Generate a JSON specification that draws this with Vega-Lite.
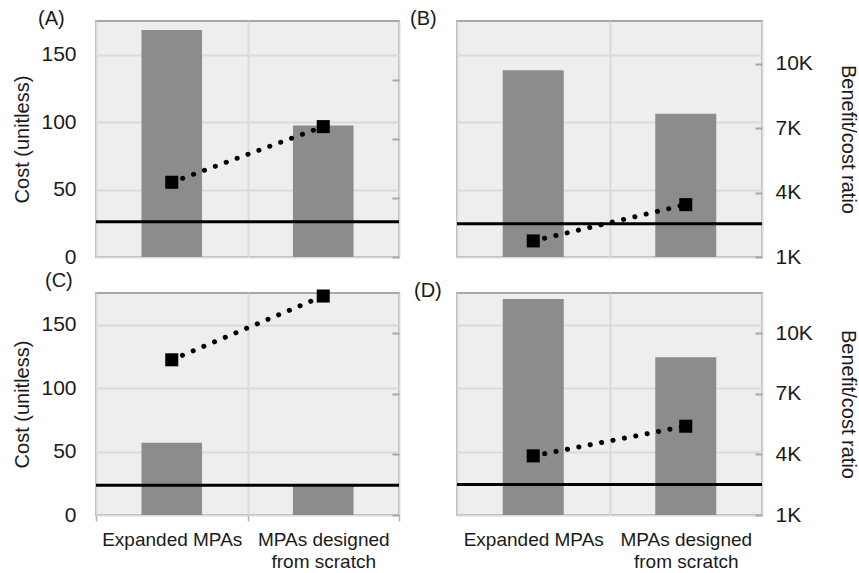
{
  "$schema": "https://vega.github.io/schema/vega-lite/v6.json",
  "autosize": {"type": "pad"},
  "padding": {"left": 11, "top": 8, "right": 0, "bottom": 0},
  "background": "white",
  "config": {
    "font": "Liberation Sans",
    "view": {"fill": "#eeeeee", "stroke": "#a8a8a8", "strokeWidth": 2},
    "axis": {"labelFont": "Liberation Sans", "titleFont": "Liberation Sans", "labelColor": "#1a1a1a", "titleColor": "#1a1a1a", "titleFontWeight": "normal", "domain": false, "gridColor": "#dadada", "gridWidth": 2},
    "title": {"font": "Liberation Sans", "fontWeight": "normal", "fontSize": 20, "color": "#1a1a1a", "anchor": "start", "frame": "group", "baseline": "alphabetic"}
  },
  "datasets": {
    "values": [
      {"panel": "A", "scenario": "Expanded MPAs", "cost": 168.4, "ratio": 4800},
      {"panel": "A", "scenario": "MPAs designed from scratch", "cost": 97.5, "ratio": 7630},
      {"panel": "B", "scenario": "Expanded MPAs", "cost": 138.4, "ratio": 1750},
      {"panel": "B", "scenario": "MPAs designed from scratch", "cost": 106.2, "ratio": 3440},
      {"panel": "C", "scenario": "Expanded MPAs", "cost": 57, "ratio": 8690},
      {"panel": "C", "scenario": "MPAs designed from scratch", "cost": 24.3, "ratio": 11850},
      {"panel": "D", "scenario": "Expanded MPAs", "cost": 170.3, "ratio": 3930},
      {"panel": "D", "scenario": "MPAs designed from scratch", "cost": 124.4, "ratio": 5400}
    ],
    "baselines": [
      {"panel": "A", "cost": 26.2},
      {"panel": "B", "cost": 24.7},
      {"panel": "C", "cost": 23.4},
      {"panel": "D", "cost": 24.1}
    ]
  },
  "columns": 2,
  "spacing": {"row": 36, "column": 58},
  "bounds": "flush",
  "concat": [
    {
      "width": 303, "height": 236,
      "title": {"text": "(A)", "dx": -58, "offset": -8},
      "layer": [
        {"layer": [
          {"data": {"name": "values"}, "transform": [{"filter": "datum.panel == 'A'"}],
           "mark": {"type": "bar", "color": "#8c8c8c", "width": {"band": 0.4}},
           "encoding": {
             "x": {"field": "scenario", "type": "nominal", "sort": ["Expanded MPAs", "MPAs designed from scratch"], "scale": {"paddingInner": 0, "paddingOuter": 0},
                   "axis": {"title": null, "labels": false, "ticks": false, "grid": true, "tickBand": "extent"}},
             "y": {"field": "cost", "type": "quantitative", "scale": {"domain": [0, 175], "nice": false},
                   "axis": {"title": "Cost (unitless)", "values": [0, 50, 100, 150], "ticks": false, "grid": true, "labelFontSize": 21, "titleFontSize": 20, "labelPadding": 20, "titlePadding": 8}}
           }},
          {"data": {"name": "baselines"}, "transform": [{"filter": "datum.panel == 'A'"}],
           "mark": {"type": "rule", "color": "black", "strokeWidth": 3},
           "encoding": {"y": {"field": "cost", "type": "quantitative"}}}
        ]},
        {"data": {"name": "values"}, "transform": [{"filter": "datum.panel == 'A'"}],
         "encoding": {
           "x": {"field": "scenario", "type": "nominal", "sort": ["Expanded MPAs", "MPAs designed from scratch"]},
           "y": {"field": "ratio", "type": "quantitative", "scale": {"domain": [1000, 13000], "nice": false, "zero": false},
                 "axis": {"orient": "right", "title": null, "labels": false, "values": [1000, 4000, 7000, 10000], "grid": false, "ticks": true, "tickSize": -7, "tickColor": "#a8a8a8", "tickWidth": 2}}
         },
         "layer": [
           {"mark": {"type": "line", "color": "black", "strokeWidth": 5, "strokeCap": "round", "strokeDash": [0.1, 11.5]}},
           {"mark": {"type": "point", "shape": "square", "size": 170, "filled": true, "color": "black", "opacity": 1}}
         ]}
      ],
      "resolve": {"scale": {"y": "independent"}}
    },
    {
      "width": 305, "height": 236,
      "title": {"text": "(B)", "dx": -47, "offset": -8},
      "layer": [
        {"layer": [
          {"data": {"name": "values"}, "transform": [{"filter": "datum.panel == 'B'"}],
           "mark": {"type": "bar", "color": "#8c8c8c", "width": {"band": 0.4}},
           "encoding": {
             "x": {"field": "scenario", "type": "nominal", "sort": ["Expanded MPAs", "MPAs designed from scratch"], "scale": {"paddingInner": 0, "paddingOuter": 0},
                   "axis": {"title": null, "labels": false, "ticks": false, "grid": true, "tickBand": "extent"}},
             "y": {"field": "cost", "type": "quantitative", "scale": {"domain": [0, 175], "nice": false},
                   "axis": {"title": null, "labels": false, "values": [0, 50, 100, 150], "ticks": false, "grid": true}}
           }},
          {"data": {"name": "baselines"}, "transform": [{"filter": "datum.panel == 'B'"}],
           "mark": {"type": "rule", "color": "black", "strokeWidth": 3},
           "encoding": {"y": {"field": "cost", "type": "quantitative"}}}
        ]},
        {"data": {"name": "values"}, "transform": [{"filter": "datum.panel == 'B'"}],
         "encoding": {
           "x": {"field": "scenario", "type": "nominal", "sort": ["Expanded MPAs", "MPAs designed from scratch"]},
           "y": {"field": "ratio", "type": "quantitative", "scale": {"domain": [1000, 12000], "nice": false, "zero": false},
                 "axis": {"orient": "right", "title": "Benefit/cost ratio", "values": [1000, 4000, 7000, 10000], "labelExpr": "datum.value / 1000 + 'K'", "grid": false, "ticks": true, "tickSize": -7, "tickColor": "#a8a8a8", "tickWidth": 2, "labelFontSize": 21, "titleFontSize": 20, "labelPadding": 20, "titlePadding": 25}}
         },
         "layer": [
           {"mark": {"type": "line", "color": "black", "strokeWidth": 5, "strokeCap": "round", "strokeDash": [0.1, 11.5]}},
           {"mark": {"type": "point", "shape": "square", "size": 170, "filled": true, "color": "black", "opacity": 1}}
         ]}
      ],
      "resolve": {"scale": {"y": "independent"}}
    },
    {
      "width": 303, "height": 222,
      "title": {"text": "(C)", "dx": -51, "offset": -5},
      "layer": [
        {"layer": [
          {"data": {"name": "values"}, "transform": [{"filter": "datum.panel == 'C'"}],
           "mark": {"type": "bar", "color": "#8c8c8c", "width": {"band": 0.4}},
           "encoding": {
             "x": {"field": "scenario", "type": "nominal", "sort": ["Expanded MPAs", "MPAs designed from scratch"], "scale": {"paddingInner": 0, "paddingOuter": 0},
                   "axis": {"title": null, "grid": true, "tickBand": "extent", "ticks": true, "tickSize": 6, "tickColor": "#b4b4b4", "tickWidth": 1.5, "labelFontSize": 19, "labelPadding": 9, "labelAngle": 0, "labelLineHeight": 22,
                            "labelExpr": "datum.label == 'MPAs designed from scratch' ? ['MPAs designed', 'from scratch'] : datum.label"}},
             "y": {"field": "cost", "type": "quantitative", "scale": {"domain": [0, 175], "nice": false},
                   "axis": {"title": "Cost (unitless)", "values": [0, 50, 100, 150], "ticks": false, "grid": true, "labelFontSize": 21, "titleFontSize": 20, "labelPadding": 20, "titlePadding": 8}}
           }},
          {"data": {"name": "baselines"}, "transform": [{"filter": "datum.panel == 'C'"}],
           "mark": {"type": "rule", "color": "black", "strokeWidth": 3},
           "encoding": {"y": {"field": "cost", "type": "quantitative"}}}
        ]},
        {"data": {"name": "values"}, "transform": [{"filter": "datum.panel == 'C'"}],
         "encoding": {
           "x": {"field": "scenario", "type": "nominal", "sort": ["Expanded MPAs", "MPAs designed from scratch"]},
           "y": {"field": "ratio", "type": "quantitative", "scale": {"domain": [1000, 12000], "nice": false, "zero": false},
                 "axis": {"orient": "right", "title": null, "labels": false, "values": [1000, 4000, 7000, 10000], "grid": false, "ticks": true, "tickSize": -7, "tickColor": "#a8a8a8", "tickWidth": 2}}
         },
         "layer": [
           {"mark": {"type": "line", "color": "black", "strokeWidth": 5, "strokeCap": "round", "strokeDash": [0.1, 11.5]}},
           {"mark": {"type": "point", "shape": "square", "size": 170, "filled": true, "color": "black", "opacity": 1}}
         ]}
      ],
      "resolve": {"scale": {"y": "independent"}}
    },
    {
      "width": 305, "height": 222,
      "title": {"text": "(D)", "dx": -43, "offset": -8},
      "layer": [
        {"layer": [
          {"data": {"name": "values"}, "transform": [{"filter": "datum.panel == 'D'"}],
           "mark": {"type": "bar", "color": "#8c8c8c", "width": {"band": 0.4}},
           "encoding": {
             "x": {"field": "scenario", "type": "nominal", "sort": ["Expanded MPAs", "MPAs designed from scratch"], "scale": {"paddingInner": 0, "paddingOuter": 0},
                   "axis": {"title": null, "grid": true, "tickBand": "extent", "ticks": false, "labelFontSize": 19, "labelPadding": 15, "labelAngle": 0, "labelLineHeight": 22,
                            "labelExpr": "datum.label == 'MPAs designed from scratch' ? ['MPAs designed', 'from scratch'] : datum.label"}},
             "y": {"field": "cost", "type": "quantitative", "scale": {"domain": [0, 175], "nice": false},
                   "axis": {"title": null, "labels": false, "values": [0, 50, 100, 150], "ticks": false, "grid": true}}
           }},
          {"data": {"name": "baselines"}, "transform": [{"filter": "datum.panel == 'D'"}],
           "mark": {"type": "rule", "color": "black", "strokeWidth": 3},
           "encoding": {"y": {"field": "cost", "type": "quantitative"}}}
        ]},
        {"data": {"name": "values"}, "transform": [{"filter": "datum.panel == 'D'"}],
         "encoding": {
           "x": {"field": "scenario", "type": "nominal", "sort": ["Expanded MPAs", "MPAs designed from scratch"]},
           "y": {"field": "ratio", "type": "quantitative", "scale": {"domain": [1000, 12000], "nice": false, "zero": false},
                 "axis": {"orient": "right", "title": "Benefit/cost ratio", "values": [1000, 4000, 7000, 10000], "labelExpr": "datum.value / 1000 + 'K'", "grid": false, "ticks": true, "tickSize": -7, "tickColor": "#a8a8a8", "tickWidth": 2, "labelFontSize": 21, "titleFontSize": 20, "labelPadding": 20, "titlePadding": 25}}
         },
         "layer": [
           {"mark": {"type": "line", "color": "black", "strokeWidth": 5, "strokeCap": "round", "strokeDash": [0.1, 11.5]}},
           {"mark": {"type": "point", "shape": "square", "size": 170, "filled": true, "color": "black", "opacity": 1}}
         ]}
      ],
      "resolve": {"scale": {"y": "independent"}}
    }
  ]
}
